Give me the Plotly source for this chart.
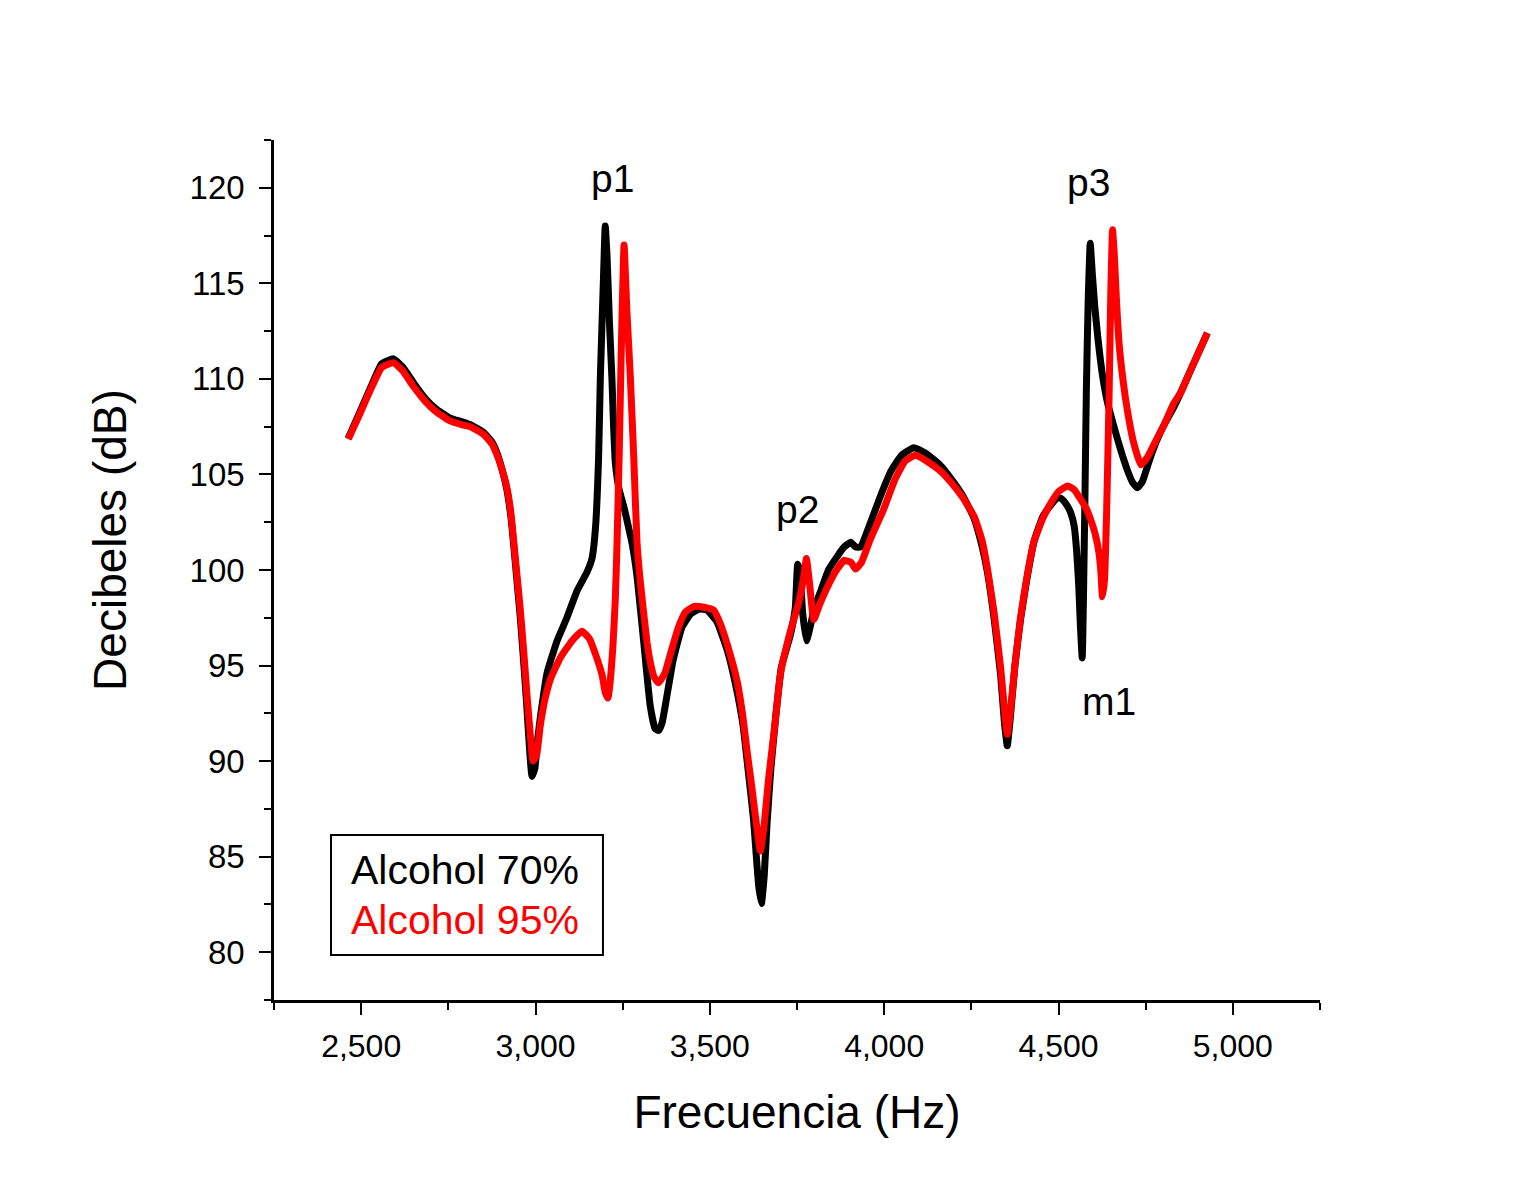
import plotly.graph_objects as go

# Alcohol 70% (black)
freq_70 = [2463, 2497, 2526, 2559, 2593, 2620, 2650, 2685, 2717, 2755, 2790, 2813, 2851, 2875, 2890,
           2905, 2918, 2930, 2937, 2946, 2956, 2966, 2975, 2983, 2990, 2998, 3006, 3014, 3033, 3062,
           3090, 3119, 3148, 3162, 3172, 3181, 3186, 3195, 3200, 3205, 3212, 3219, 3224, 3229, 3240,
           3255, 3266, 3277, 3291, 3310, 3329, 3343, 3353, 3363, 3375, 3395, 3420, 3445, 3470, 3492,
           3520, 3550, 3575, 3595, 3610, 3625, 3640, 3648, 3656, 3664, 3675, 3690, 3705, 3731, 3745,
           3752, 3758, 3766, 3777, 3785, 3800, 3820, 3840, 3865, 3885, 3904, 3918, 3932, 3955, 3990,
           4020, 4050, 4085, 4120, 4160, 4191, 4225, 4258, 4280, 4296, 4315, 4334, 4345, 4353, 4362,
           4375, 4391, 4410, 4430, 4455, 4478, 4495, 4506, 4520, 4535, 4545, 4552, 4558, 4563, 4568,
           4572, 4576, 4580, 4585, 4591, 4597, 4604, 4612, 4626, 4640, 4659, 4678, 4698, 4712, 4726,
           4740, 4760, 4780, 4803, 4830, 4851, 4880, 4927]
db_70 = [106.9, 108.3, 109.5, 110.8, 111.05, 110.6, 109.8, 108.95, 108.4, 107.95, 107.75, 107.6, 107.2, 106.7, 106.1,
         105.2, 104.2, 102.7, 101.4, 99.6, 97.6, 95.2, 92.9, 90.6, 89.2, 89.6, 91.1, 92.3, 94.6, 96.3,
         97.5, 98.9, 99.9, 100.6, 102.2, 105.9, 110.1, 115.3, 118.0, 116.5, 113.0, 110.1, 107.5, 105.6, 104.2,
         103.2, 102.3, 101.4, 99.7, 96.3, 92.9, 91.7, 91.6, 92.0, 93.2, 95.3, 97.0, 97.7, 97.95, 97.9,
         97.3, 95.8, 93.9, 91.9, 89.5, 87.0, 83.5, 82.55, 84.0, 86.7, 89.6, 92.5, 94.9, 96.6, 98.0,
         100.3, 100.0, 97.8, 96.3, 96.8, 98.0, 99.0, 100.0, 100.7, 101.2, 101.45, 101.2, 101.2, 102.2, 103.9,
         105.2, 106.0, 106.4, 106.1, 105.5, 104.8, 103.9, 102.7, 101.3, 99.9, 97.5, 94.5, 92.0, 90.8, 92.3,
         95.0, 97.4, 99.6, 101.5, 102.8, 103.4, 103.75, 103.75, 103.5, 103.0, 102.3, 101.0, 99.2, 97.0, 95.4,
         99.0, 104.0, 109.5, 114.0, 117.1, 115.5, 113.8, 112.3, 110.2, 108.8, 107.5, 106.3, 105.2, 104.6, 104.3,
         104.6, 105.7, 106.7, 107.6, 108.5, 109.3, 110.5, 112.4]

# Alcohol 95% (red)
freq_95 = [2463, 2497, 2526, 2559, 2593, 2620, 2650, 2685, 2717, 2755, 2790, 2813, 2851, 2875, 2890,
           2905, 2918, 2930, 2937, 2946, 2956, 2966, 2975, 2985, 2993, 3003, 3014, 3028, 3043, 3071,
           3105, 3133, 3155, 3172, 3191, 3200, 3208, 3216, 3222, 3229, 3234, 3240, 3246, 3254, 3262,
           3272, 3282, 3291, 3300, 3310, 3320, 3329, 3340, 3353, 3365, 3373, 3390, 3410, 3430, 3455,
           3483, 3511, 3530, 3550, 3578, 3595, 3607, 3620, 3635, 3645, 3655, 3668, 3684, 3703, 3731,
           3755, 3768, 3777, 3786, 3798, 3815, 3837, 3860, 3885, 3905, 3918, 3935, 3960, 3999, 4030,
           4060, 4090, 4130, 4160, 4191, 4225, 4258, 4280, 4296, 4315, 4334, 4345, 4353, 4362, 4375,
           4391, 4410, 4430, 4455, 4478, 4500, 4526, 4545, 4560, 4580, 4593, 4605, 4616, 4622, 4626,
           4632, 4638, 4645, 4650, 4655, 4660, 4666, 4674, 4686, 4698, 4715, 4736, 4755, 4780, 4803,
           4830, 4851, 4880, 4927]
db_95 = [106.85, 108.2, 109.4, 110.6, 110.85, 110.4, 109.6, 108.8, 108.25, 107.8, 107.6, 107.5, 107.1, 106.6, 106.0,
         105.2, 104.3, 102.9, 101.6, 99.9, 98.0, 95.8, 93.6, 91.4, 90.0, 90.3, 91.9, 93.3, 94.3, 95.4,
         96.3, 96.8, 96.4, 95.6, 94.5, 93.6, 93.3, 94.5, 96.0, 98.5, 101.5, 106.0, 111.5, 117.0, 113.6,
         110.1, 105.8, 101.5, 99.5, 97.8, 96.2, 95.2, 94.4, 94.1, 94.4, 94.7, 95.8, 97.0, 97.8, 98.1,
         98.05, 97.9, 97.2, 96.1, 94.2, 92.3, 90.5, 88.7, 86.5, 85.3, 86.5, 89.0, 91.5, 94.6, 96.8,
         98.3, 99.5, 100.6, 99.3, 97.4, 98.2, 99.1, 99.9, 100.5, 100.4, 100.05, 100.4, 101.6, 103.2, 104.7,
         105.7, 106.0, 105.6, 105.2, 104.6, 103.8, 102.8, 101.6, 100.1, 97.8, 94.9, 92.7, 91.4, 92.6, 95.0,
         97.5, 99.7, 101.5, 102.7, 103.5, 104.1, 104.4, 104.2, 103.8, 103.2, 102.6, 101.9, 100.9, 99.8, 98.6,
         99.5, 103.0, 109.0, 114.5, 117.8, 116.5, 114.2, 111.8, 109.8, 108.3, 106.7, 105.5, 105.9, 106.8, 107.6,
         108.7, 109.3, 110.5, 112.4]

series_names = ["Alcohol 70%", "Alcohol 95%"]
peak_labels = ["p1", "p2", "p3", "m1"]
peak_x = [3220, 3751, 4587, 4644]
peak_y = [120.47, 103.16, 120.3, 93.1]

FONT = "Liberation Sans, Arial, sans-serif"

fig = go.Figure()
fig.add_trace(go.Scatter(x=freq_70, y=db_70, mode="lines", name=series_names[0],
                         line=dict(color="#000000", width=7, shape="spline", smoothing=0.4)))
fig.add_trace(go.Scatter(x=freq_95, y=db_95, mode="lines", name=series_names[1],
                         line=dict(color="#FF0000", width=7, shape="spline", smoothing=0.4)))

for t, x, y in zip(peak_labels, peak_x, peak_y):
    fig.add_annotation(x=x, y=y, text=t, showarrow=False, xanchor="center", yanchor="middle",
                       font=dict(family=FONT, size=39, color="black"))

# legend box
fig.add_shape(type="rect", xref="paper", yref="paper", x0=0.0545, x1=0.3145, y0=0.0523, y1=0.1919,
              line=dict(color="black", width=2), fillcolor="rgba(0,0,0,0)")
fig.add_annotation(xref="paper", yref="paper", x=0.0717, y=0.1512, text=series_names[0], showarrow=False,
                   xanchor="left", yanchor="middle", font=dict(family=FONT, size=41, color="black"))
fig.add_annotation(xref="paper", yref="paper", x=0.0717, y=0.0930, text=series_names[1], showarrow=False,
                   xanchor="left", yanchor="middle", font=dict(family=FONT, size=41, color="#FF0000"))

# y-axis title
fig.add_annotation(xref="paper", yref="paper", x=-0.1568, y=0.535, text="Decibeles (dB)", showarrow=False,
                   textangle=-90, xanchor="center", yanchor="middle",
                   font=dict(family=FONT, size=46, color="black"))

fig.update_layout(
    width=1533, height=1200,
    margin=dict(l=266, r=221, t=132, b=208),
    paper_bgcolor="white", plot_bgcolor="white",
    showlegend=False,
    font=dict(family=FONT, color="black"),
)
fig.update_xaxes(
    range=[2250, 5250], dtick=500, tick0=0, tickformat=",d",
    showgrid=False, zeroline=False, showline=True, linecolor="black", linewidth=2.5,
    ticks="outside", ticklen=12, tickwidth=2, tickcolor="black", ticklabelstandoff=4,
    minor=dict(dtick=250, tick0=0, ticks="outside", ticklen=7, tickwidth=2, tickcolor="black", showgrid=False),
    tickfont=dict(family=FONT, size=32, color="black"),
    title=dict(text="Frecuencia (Hz)", font=dict(family=FONT, size=46, color="black"), standoff=33),
)
fig.update_yaxes(
    range=[77.5, 122.5], dtick=5, tick0=0,
    showgrid=False, zeroline=False, showline=True, linecolor="black", linewidth=2.5,
    ticks="outside", ticklen=12, tickwidth=2, tickcolor="black", ticklabelstandoff=8,
    minor=dict(dtick=2.5, tick0=0, ticks="outside", ticklen=7, tickwidth=2, tickcolor="black", showgrid=False),
    tickfont=dict(family=FONT, size=33, color="black"),
)

fig.write_html("out.html")
